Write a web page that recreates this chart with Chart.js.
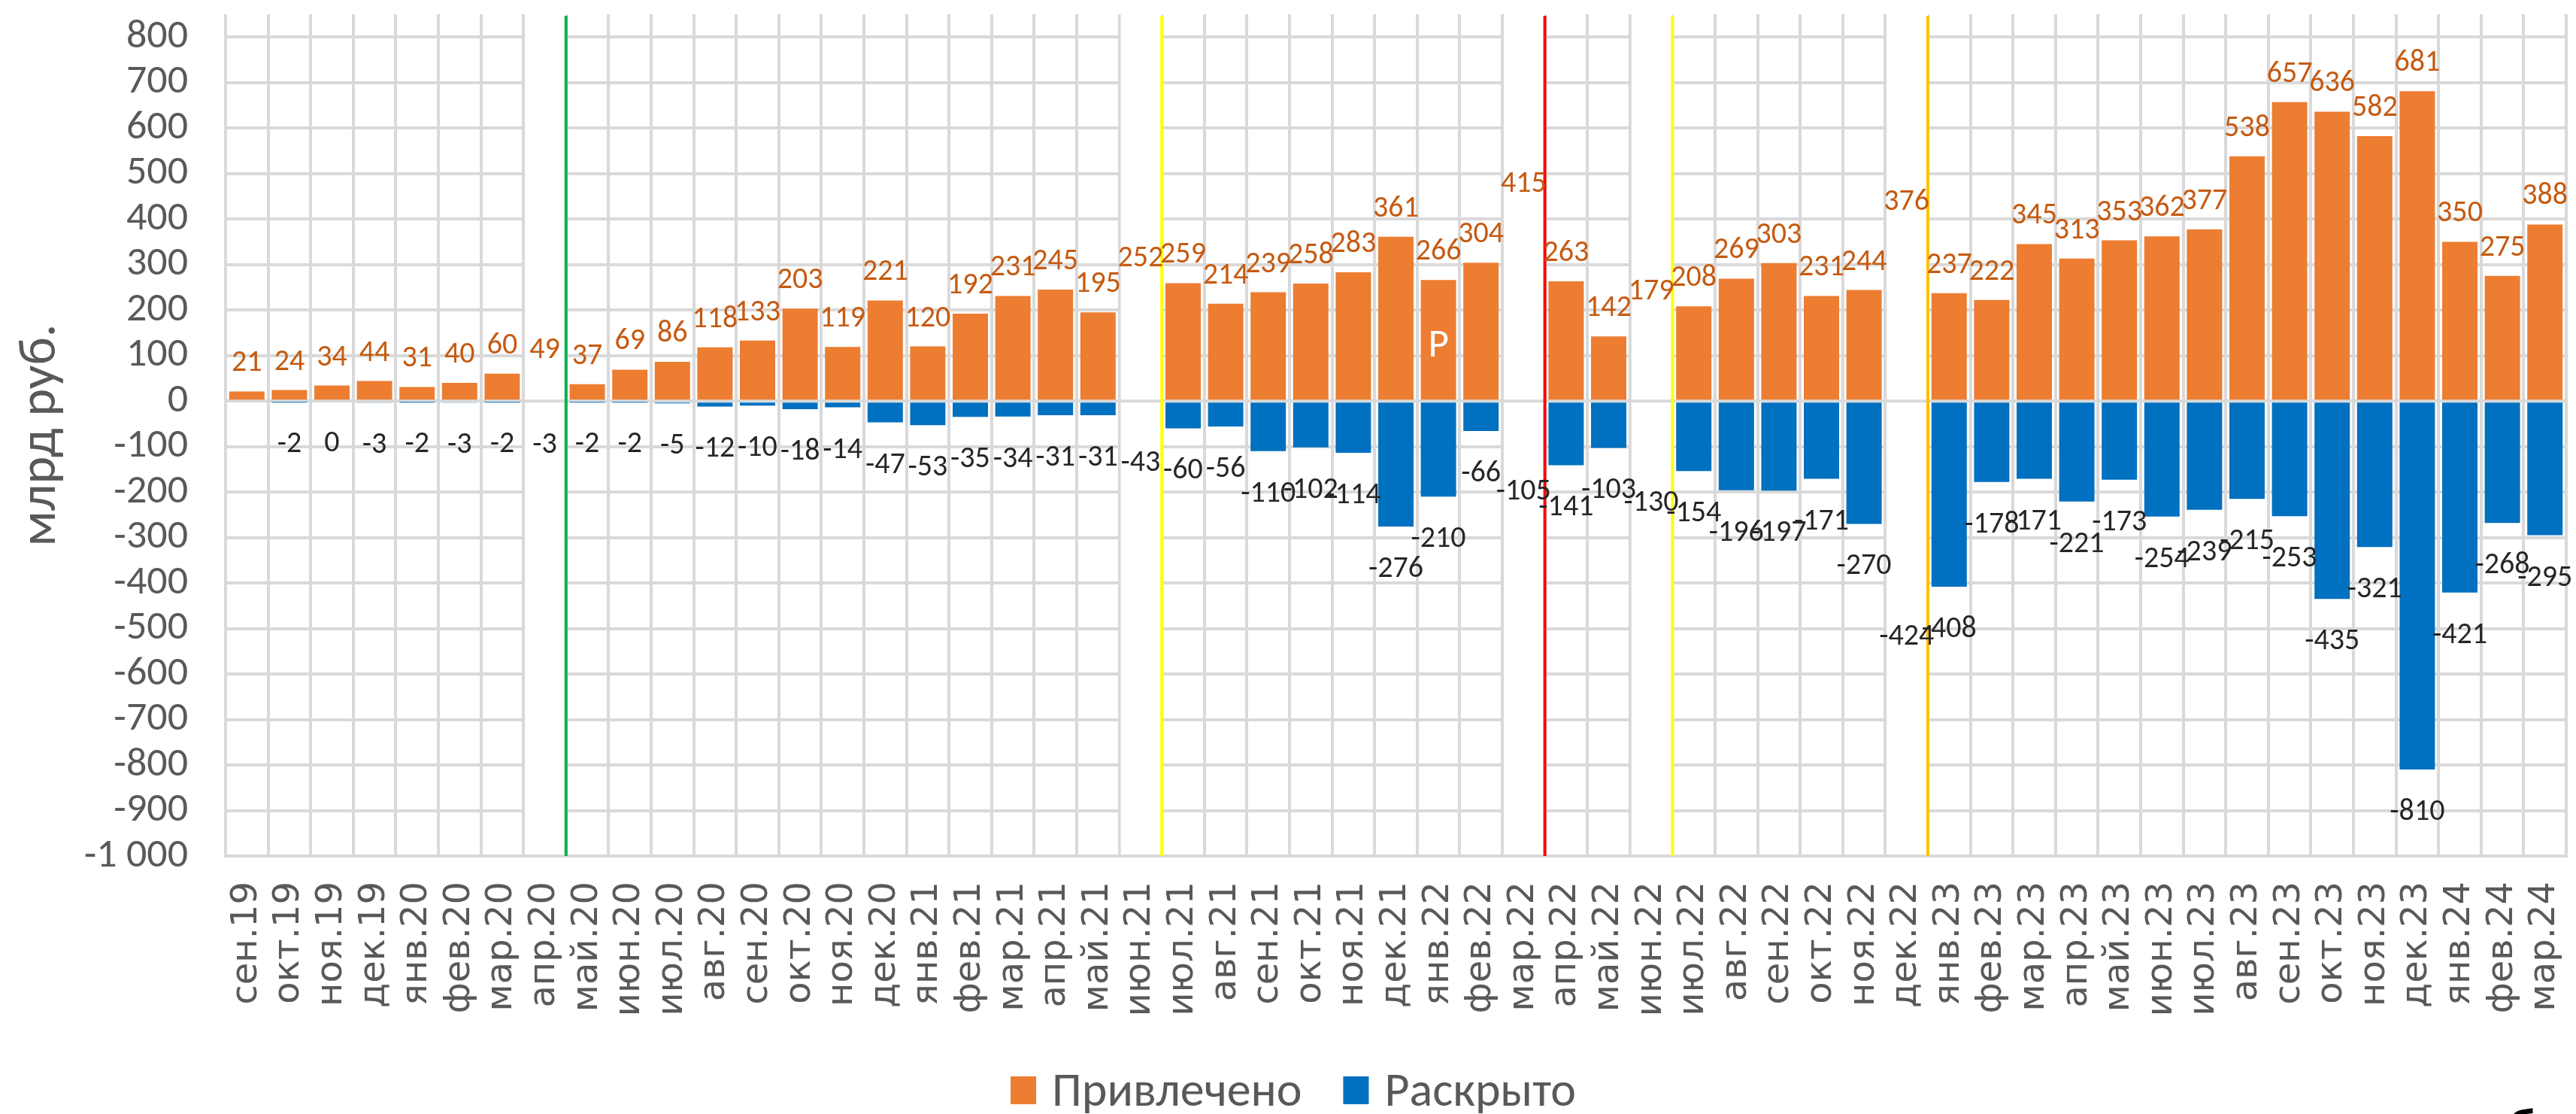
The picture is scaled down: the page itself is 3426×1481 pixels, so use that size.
<!DOCTYPE html>
<html>
<head>
<meta charset="utf-8">
<script src="https://cdn.jsdelivr.net/npm/chart.js@4.4.1/dist/chart.umd.min.js"></script>
<style>
html,body{margin:0;padding:0;background:#ffffff;}
#wrap{width:3426px;height:1481px;position:relative;}
</style>
</head>
<body>
<div id="wrap"><canvas id="c" width="3426" height="1481"></canvas></div>
<script>
const categories = [
  'сен.19','окт.19','ноя.19','дек.19','янв.20','фев.20','мар.20','апр.20','май.20','июн.20',
  'июл.20','авг.20','сен.20','окт.20','ноя.20','дек.20','янв.21','фев.21','мар.21','апр.21',
  'май.21','июн.21','июл.21','авг.21','сен.21','окт.21','ноя.21','дек.21','янв.22','фев.22',
  'мар.22','апр.22','май.22','июн.22','июл.22','авг.22','сен.22','окт.22','ноя.22','дек.22',
  'янв.23','фев.23','мар.23','апр.23','май.23','июн.23','июл.23','авг.23','сен.23','окт.23',
  'ноя.23','дек.23','янв.24','фев.24','мар.24'
];
const attracted = [
  21, 24, 34, 44, 31, 40, 60, 49, 37, 69,
  86, 118, 133, 203, 119, 221, 120, 192, 231, 245,
  195, 252, 259, 214, 239, 258, 283, 361, 266, 304,
  415, 263, 142, 179, 208, 269, 303, 231, 244, 376,
  237, 222, 345, 313, 353, 362, 377, 538, 657, 636,
  582, 681, 350, 275, 388
];
const disclosed = [
  null, -2, 0, -3, -2, -3, -2, -3, -2, -2,
  -5, -12, -10, -18, -14, -47, -53, -35, -34, -31,
  -31, -43, -60, -56, -110, -102, -114, -276, -210, -66,
  -105, -141, -103, -130, -154, -196, -197, -171, -270, -424,
  -408, -178, -171, -221, -173, -254, -239, -215, -253, -435,
  -321, -810, -421, -268, -295
];
const seriesNames = ['Привлечено', 'Раскрыто'];
const seriesColors = ['#ED7D31', '#0070C0'];
const labelColors = ['#C55A11', '#262626'];
const yTicks = [-1000, -900, -800, -700, -600, -500, -400, -300, -200, -100, 0, 100, 200, 300, 400, 500, 600, 700, 800];
const yTitle = 'млрд руб.';
const markerMonths = ['апр.20', 'июн.21', 'мар.22', 'июн.22', 'дек.22'];
const markerColors = ['#00B050', '#FFFF00', '#FF0000', '#FFFF00', '#FFC000'];
const noteMonth = 'янв.22';
const noteText = 'Р';
const cornerText = 'б';

const GRID = '#d9d9d9';
const TEXT = '#595959';
const FONT = "Carlito, Calibri, 'Liberation Sans', sans-serif";

function fmt(v) {
  const s = Math.abs(v).toString().replace(/\B(?=(\d{3})+(?!\d))/g, ' ');
  return (v < 0 ? '-' : '') + s;
}
function barColors(idx) {
  return categories.map(c => markerMonths.includes(c) ? 'rgba(0,0,0,0)' : seriesColors[idx]);
}

const gapPlugin = {
  id: 'gaps',
  beforeDatasetsDraw(chart) {
    const { ctx, chartArea: a, scales: { x, y } } = chart;
    const half = x.width / categories.length / 2;
    const y0 = y.getPixelForValue(0);
    ctx.save();
    markerMonths.forEach((m, k) => {
      const i = categories.indexOf(m);
      const cx = x.getPixelForValue(i);
      const l = cx - half, r = cx + half;
      ctx.fillStyle = '#ffffff';
      ctx.fillRect(l + 2, a.top - 3, r - l - 2, a.bottom - a.top + 1);
      ctx.strokeStyle = GRID;
      ctx.lineWidth = 4;
      ctx.beginPath(); ctx.moveTo(l, y0); ctx.lineTo(r, y0); ctx.stroke();
      ctx.strokeStyle = markerColors[k];
      ctx.lineWidth = 4;
      ctx.beginPath(); ctx.moveTo(r, a.top + 2); ctx.lineTo(r, a.bottom); ctx.stroke();
    });
    ctx.restore();
  },
  afterDatasetsDraw(chart) {
    const { ctx, scales: { x, y } } = chart;
    ctx.save();
    ctx.font = "40px " + FONT;
    ctx.textAlign = 'center';
    ctx.textBaseline = 'alphabetic';
    chart.data.datasets.forEach((ds, di) => {
      ds.data.forEach((v, i) => {
        if (v === null || v === undefined) return;
        const cx = x.getPixelForValue(i);
        const ye = y.getPixelForValue(v);
        ctx.fillStyle = labelColors[di];
        if (v > 0 || di === 0) ctx.fillText(fmt(v), cx, ye - 27);
        else ctx.fillText(fmt(v), cx, ye + 67);
      });
    });
    const ni = categories.indexOf(noteMonth);
    const bar = chart.getDatasetMeta(0).data[ni];
    ctx.fillStyle = '#ffffff';
    ctx.font = "53px " + FONT;
    ctx.fillText(noteText, bar.x, (bar.y + bar.base) / 2 + 22);
    ctx.restore();
  },
  afterDraw(chart) {
    const { ctx } = chart;
    ctx.save();
    ctx.font = "64px " + FONT;
    ctx.textBaseline = 'alphabetic';
    const box = 34, gap = 21, spacing = 55;
    const w0 = ctx.measureText(seriesNames[0]).width;
    const w1 = ctx.measureText(seriesNames[1]).width;
    const total = box + gap + w0 + spacing + box + gap + w1;
    let xx = chart.width / 2 + 7 - total / 2;
    const cy = chart.height - 31;
    [0, 1].forEach(k => {
      ctx.fillStyle = seriesColors[k];
      ctx.fillRect(xx, cy - 19, box, 37);
      xx += box + gap;
      ctx.fillStyle = TEXT;
      ctx.fillText(seriesNames[k], xx, cy + 20);
      xx += (k === 0 ? w0 : w1) + spacing;
    });
    ctx.fillStyle = '#000000';
    ctx.font = "bold 60px 'Liberation Sans', sans-serif";
    ctx.textAlign = 'center';
    ctx.fillText(cornerText, chart.width - 72, chart.height + 36);
    ctx.restore();
  }
};

new Chart(document.getElementById('c'), {
  type: 'bar',
  data: {
    labels: categories,
    datasets: [
      { label: seriesNames[0], data: attracted, backgroundColor: barColors(0), grouped: false, barPercentage: 0.83, categoryPercentage: 1 },
      { label: seriesNames[1], data: disclosed, backgroundColor: barColors(1), grouped: false, barPercentage: 0.83, categoryPercentage: 1 }
    ]
  },
  options: {
    responsive: false,
    devicePixelRatio: 1,
    animation: false,
    layout: { padding: { top: 19, right: 13, left: 0, bottom: 0 } },
    plugins: { legend: { display: false }, tooltip: { enabled: false } },
    scales: {
      x: {
        offset: true,
        grid: { offset: true, color: GRID, lineWidth: 4, drawTicks: false },
        border: { display: true, color: GRID, width: 4 },
        ticks: {
          autoSkip: false, minRotation: 90, maxRotation: 90, padding: 34,
          color: TEXT, font: { family: "'DejaVu Sans', Verdana, sans-serif", size: 48 }
        },
        afterFit(scale) { scale.height = 343; scale.paddingLeft = 0; scale.paddingRight = 0; }
      },
      y: {
        min: -1000, max: 850,
        afterBuildTicks(scale) { scale.ticks = yTicks.map(v => ({ value: v })); },
        grid: { color: GRID, lineWidth: 4, drawTicks: false },
        border: { display: false },
        ticks: {
          autoSkip: false,
          padding: 50, color: TEXT, font: { family: FONT, size: 54 },
          callback: v => fmt(v)
        },
        title: { display: true, text: yTitle, color: TEXT, font: { family: FONT, size: 70 }, padding: { top: 13, bottom: 0 } },
        afterFit(scale) { scale.width = 300; scale.paddingTop = 0; scale.paddingBottom = 0; }
      }
    }
  },
  plugins: [gapPlugin]
});
</script>
</body>
</html>
